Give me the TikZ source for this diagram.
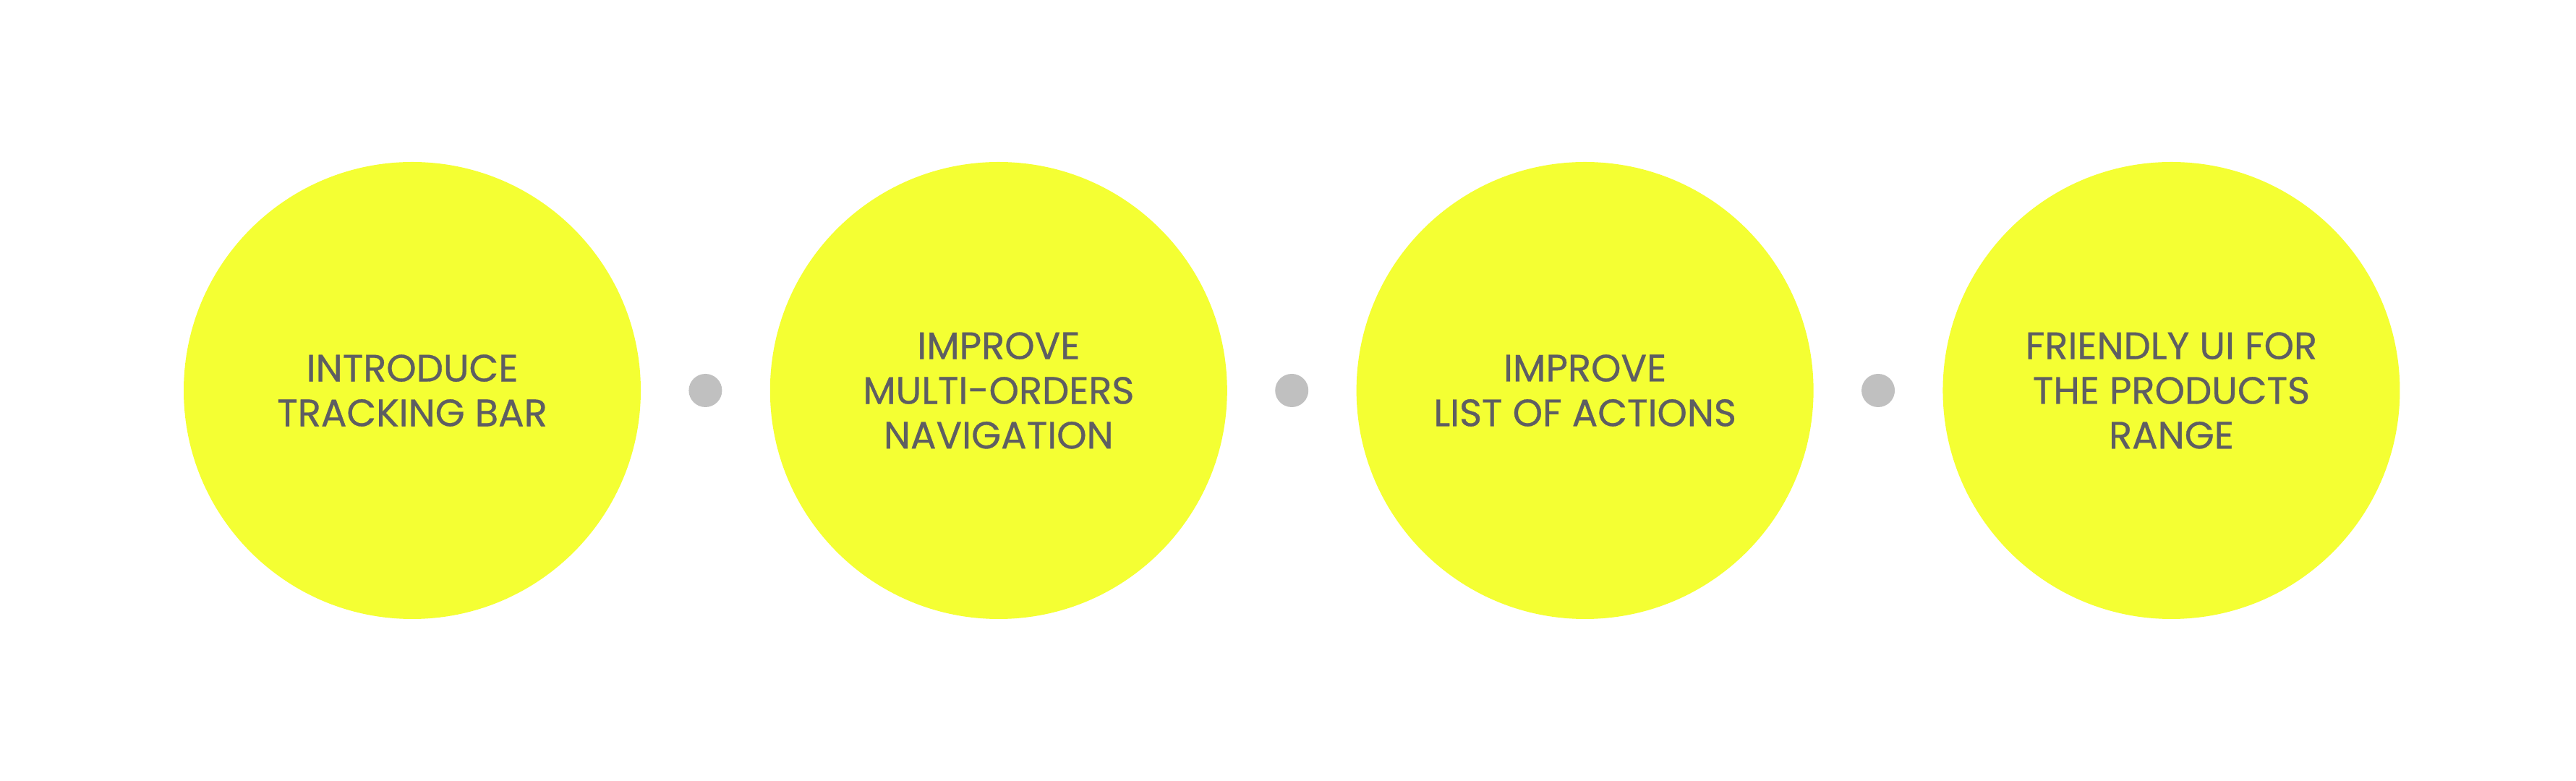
\documentclass[tikz,border=0pt]{standalone}
\usepackage{fontspec}
\usepackage{tikz}
\usetikzlibrary{positioning}
\usepackage{xcolor}
\newfontfamily\labelfont[FakeBold=0.6]{Poppins}

\definecolor{stepyellow}{HTML}{F4FF33}
\definecolor{steptext}{HTML}{5E5E62}
\definecolor{dotgray}{HTML}{C0C0C0}

\begin{document}
\begin{tikzpicture}[
    stepcircle/.style={circle, fill=stepyellow, minimum size=6.32cm, inner sep=0pt, align=center, text=steptext, font=\labelfont\fontsize{15}{17.6}\selectfont},
    sepdot/.style={circle, fill=dotgray, minimum size=0.46cm, inner sep=0pt}
]
    \useasboundingbox (0,0) rectangle (35.62,10.8);

    \node[stepcircle] (intro) at (5.70,5.40) {INTRODUCE\\TRACKING BAR};
    \node[sepdot] (dot1) [right=0.65cm of intro] {};

    \node[stepcircle] (multi) [right=0.65cm of dot1] {IMPROVE\\MULTI-ORDERS\\NAVIGATION};
    \node[sepdot] (dot2) [right=0.65cm of multi] {};

    \node[stepcircle] (actions) [right=0.65cm of dot2] {IMPROVE\\LIST OF ACTIONS};
    \node[sepdot] (dot3) [right=0.65cm of actions] {};

    \node[stepcircle] (range) [right=0.65cm of dot3] {FRIENDLY UI FOR\\THE PRODUCTS\\RANGE};
\end{tikzpicture}
\end{document}
